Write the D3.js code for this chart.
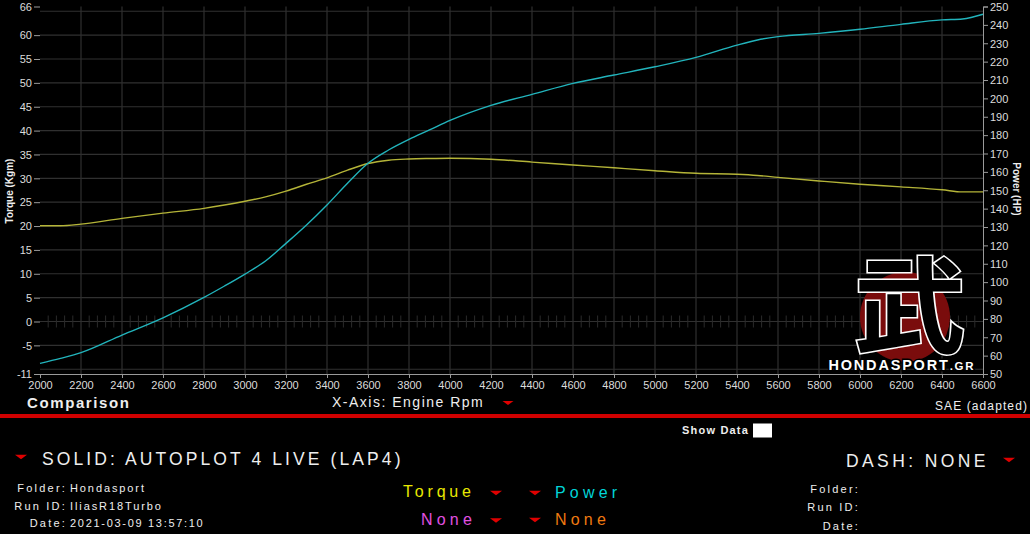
<!DOCTYPE html>
<html>
<head>
<meta charset="utf-8">
<script src="https://cdn.jsdelivr.net/npm/d3@7"></script>
<style>
html,body{margin:0;padding:0;background:#000;}
svg{display:block;}
text{font-family:"Liberation Sans",Arial,sans-serif;}
</style>
</head>
<body>
<svg id="chart" width="1030" height="534"></svg>
<script>
// ---- data ----
const rpm = [2000,2100,2200,2400,2600,2800,2900,3000,3100,3200,3300,3400,3500,3600,3700,3800,3900,4000,4200,4400,4600,4800,5000,5200,5400,5500,5600,5800,6000,6200,6400,6500,6600];
const torque = [20.07,20.05,20.4,21.6,22.7,23.7,24.4,25.2,26.1,27.3,28.75,30.1,31.7,33.1,33.8,34.05,34.15,34.2,34.0,33.4,32.8,32.2,31.6,31.05,30.85,30.6,30.2,29.45,28.75,28.2,27.6,27.15,27.15];
const power = [55.8,58.5,61.6,71.2,80.6,91.7,97.9,104.4,111.5,121.1,131.1,142.0,153.8,164.7,171.9,177.7,182.8,188.0,196.2,202.2,208.2,212.7,217.2,222.3,229.0,231.8,233.6,235.4,237.6,240.3,242.7,243.2,245.8];
const xTicks = [2000,2200,2400,2600,2800,3000,3200,3400,3600,3800,4000,4200,4400,4600,4800,5000,5200,5400,5600,5800,6000,6200,6400,6600];
const leftTicks = [66,60,55,50,45,40,35,30,25,20,15,10,5,0,-5,-11];
const leftGrid = [65,60,55,50,45,40,35,30,25,20,15,10,5,0,-5,-10];
const rightTicks = [50,60,70,80,90,100,110,120,130,140,150,160,170,180,190,200,210,220,230,240,250];

const svg = d3.select("#chart");
const x = d3.scaleLinear([2000,6600],[40,983]);
const yL = d3.scaleLinear([-11,66],[374,6.5]);
const yR = d3.scaleLinear([50,250],[374,6.5]);

const grid = svg.append("g");
grid.selectAll("line.h").data(leftGrid).join("line")
  .attr("x1",40).attr("x2",983).attr("y1",d=>yL(d)).attr("y2",d=>yL(d))
  .attr("stroke","#303030").attr("stroke-width",1.2);
grid.selectAll("line.v").data(xTicks.slice(1,-1)).join("line")
  .attr("x1",d=>x(d)).attr("x2",d=>x(d)).attr("y1",6.5).attr("y2",374)
  .attr("stroke","#303030").attr("stroke-width",1.2);
const minor = d3.range(2040,6600,40).filter(d=>d%200!==0);
grid.selectAll("line.m").data(minor).join("line")
  .attr("x1",d=>x(d)).attr("x2",d=>x(d)).attr("y1",yL(0)-6).attr("y2",yL(0)+6)
  .attr("stroke","#2a2a2a").attr("stroke-width",1);

// logo
const logo = svg.append("g");
logo.append("circle").attr("cx",905).attr("cy",317).attr("r",45).attr("fill","#7a0c0c");
logo.append("text").attr("transform","translate(910,345) scale(1.08,1)").attr("text-anchor","middle")
  .style("font-family","'Noto Sans CJK JP','Noto Sans CJK SC',sans-serif").style("font-weight","700")
  .attr("font-size",104).attr("fill","#000").attr("stroke","#fff").attr("stroke-width",3)
  .attr("paint-order","stroke").text("武");
const lt = logo.append("text").attr("x",902).attr("y",370).attr("text-anchor","middle")
  .attr("font-size",14.5).attr("font-weight","bold").attr("fill","#fff").attr("stroke","#000").attr("stroke-width",3)
  .attr("paint-order","stroke").attr("letter-spacing",1.8);
lt.append("tspan").text("HONDASPORT");
lt.append("tspan").attr("font-size",11.5).text(".GR");

// axes
function styleAxis(g){
  g.selectAll("text").attr("fill","#dcdcdc").attr("font-size",11).style("font-family","'Liberation Sans',Arial,sans-serif");
  g.selectAll("line").attr("stroke","#9a9a9a");
  g.select(".domain").attr("stroke","#9a9a9a");
}
svg.append("g").attr("transform","translate(40,0)")
  .call(d3.axisLeft(yL).tickValues(leftTicks).tickSize(6).tickPadding(2).tickFormat(d=>String(d)))
  .call(g=>{styleAxis(g); g.select(".domain").remove(); g.selectAll("text").attr("dy","0.34em");});
svg.append("g").attr("transform","translate(983,0)")
  .call(d3.axisRight(yR).tickValues(rightTicks).tickSize(5).tickPadding(2).tickFormat(d=>String(d)))
  .call(g=>{styleAxis(g); g.selectAll("text").attr("dy","0.34em");});
svg.append("g").attr("transform","translate(0,374)")
  .call(d3.axisBottom(x).tickValues(xTicks).tickSize(4).tickPadding(3).tickFormat(d=>String(d)))
  .call(g=>{styleAxis(g);});

// curves
const lineT = d3.line().x((d,i)=>x(rpm[i])).y(d=>yL(d)).curve(d3.curveMonotoneX);
const lineP = d3.line().x((d,i)=>x(rpm[i])).y(d=>yR(d)).curve(d3.curveMonotoneX);
svg.append("path").attr("d",lineT(torque)).attr("fill","none").attr("stroke","#b4b438").attr("stroke-width",1.4);
svg.append("path").attr("d",lineP(power)).attr("fill","none").attr("stroke","#22b4bc").attr("stroke-width",1.4);

// axis titles
svg.append("text").attr("transform","translate(13,191) rotate(-90)").attr("text-anchor","middle")
  .attr("font-size",10).attr("font-weight","bold").attr("fill","#eee").text("Torque (Kgm)");
svg.append("text").attr("transform","translate(1013,189) rotate(90)").attr("text-anchor","middle")
  .attr("font-size",10).attr("font-weight","bold").attr("fill","#eee").text("Power (HP)");

// lower panel
function txt(xp,yp,s,opt){
  const t = svg.append("text").attr("x",xp).attr("y",yp).text(s)
    .attr("font-size",opt.size).attr("fill",opt.fill||"#eee")
    .attr("letter-spacing",opt.ls||0).attr("text-anchor",opt.anchor||"start");
  if(opt.bold) t.attr("font-weight","bold");
  return t;
}
function tri(cx,cy,w,h){
  svg.append("path").attr("d",`M${cx-w/2},${cy-h/2}L${cx+w/2},${cy-h/2}L${cx},${cy+h/2}Z`).attr("fill","#e00000");
}
txt(27,408,"Comparison",{size:15,bold:true,ls:1.6});
txt(332,407,"X-Axis: Engine Rpm",{size:14,ls:1.5});
tri(508,403,11,4);
txt(1028,410,"SAE (adapted)",{size:12,ls:1.1,anchor:"end"});
svg.append("rect").attr("x",0).attr("y",414).attr("width",1030).attr("height",4).attr("fill","#d00000");

txt(682,434,"Show Data",{size:11,bold:true,ls:1.2});
svg.append("rect").attr("x",753).attr("y",423.5).attr("width",19).attr("height",14).attr("fill","#fff");

tri(21,457,12,4.5);
txt(42,465,"SOLID: AUTOPLOT 4 LIVE (LAP4)",{size:17.5,ls:3.1});
txt(846,467,"DASH: NONE",{size:17.5,ls:3.4});
tri(1009,460,12,4.5);

txt(67,492,"Folder:",{size:11,ls:2.2,anchor:"end"});
txt(67,510,"Run ID:",{size:11,ls:2.2,anchor:"end"});
txt(67,527,"Date:",{size:11,ls:2.2,anchor:"end"});
txt(70,492,"Hondasport",{size:11,ls:1.9});
txt(70,510,"IliasR18Turbo",{size:11,ls:1.9});
txt(70,527,"2021-03-09 13:57:10",{size:11,ls:1.7});

txt(403,497,"Torque",{size:16,ls:3.8,fill:"#e8e800"});
tri(496,493,12,4.5);
tri(535,493,12,4.5);
txt(555,498,"Power",{size:16,ls:4.2,fill:"#00d4d8"});
txt(421,525,"None",{size:16,ls:4.2,fill:"#e050e0"});
tri(496,520.5,12,4.5);
tri(535,520,12,4.5);
txt(555,525,"None",{size:16,ls:4.2,fill:"#f07a10"});

txt(860,493,"Folder:",{size:11,ls:2.2,anchor:"end"});
txt(860,511,"Run ID:",{size:11,ls:2.2,anchor:"end"});
txt(860,530,"Date:",{size:11,ls:2.2,anchor:"end"});
</script>
</body>
</html>
